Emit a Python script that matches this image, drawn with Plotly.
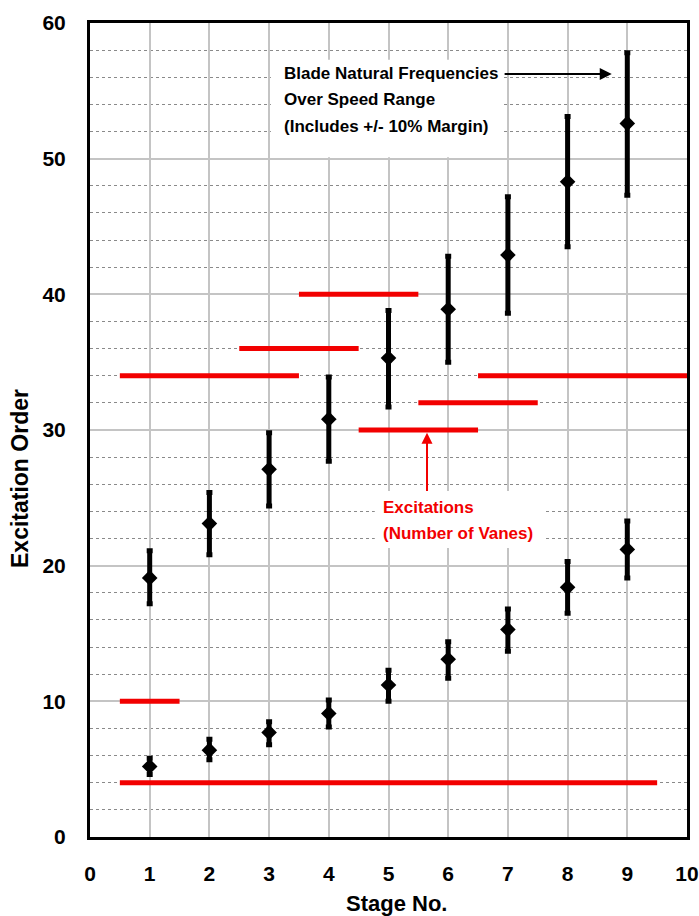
import plotly.graph_objects as go

# ---- data ----
stages = [1, 2, 3, 4, 5, 6, 7, 8, 9]
# upper blade natural-frequency band (centre, low, high)
upper_mid = [19.1, 23.1, 27.1, 30.8, 35.3, 38.9, 42.9, 48.3, 52.6]
upper_low = [17.2, 20.8, 24.4, 27.7, 31.7, 35.0, 38.6, 43.5, 47.3]
upper_high = [21.1, 25.4, 29.8, 33.9, 38.8, 42.8, 47.2, 53.1, 57.8]
# lower blade natural-frequency band (centre, low, high)
lower_mid = [5.2, 6.4, 7.7, 9.1, 11.2, 13.1, 15.3, 18.4, 21.2]
lower_low = [4.6, 5.7, 6.8, 8.1, 10.0, 11.7, 13.7, 16.5, 19.1]
lower_high = [5.8, 7.2, 8.5, 10.1, 12.3, 14.4, 16.8, 20.3, 23.3]
# excitations (number of vanes): level and stage span
exc_level = [4, 10, 34, 36, 40, 30, 32, 34]
exc_start = [0.5, 0.5, 0.5, 2.5, 3.5, 4.5, 5.5, 6.5]
exc_end = [9.5, 1.5, 3.5, 4.5, 5.5, 6.5, 7.5, 10.0]

x_ticks = list(range(0, 11))
y_ticks = list(range(0, 61, 10))

blade_lines = ["Blade Natural Frequencies", "Over Speed Range", "(Includes +/- 10% Margin)"]
exc_lines = ["Excitations", "(Number of Vanes)"]

FONT = "Liberation Sans, Arial, sans-serif"
RED = "#f20000"

fig = go.Figure()

# excitation lines
ex, ey = [], []
for lv, a, b in zip(exc_level, exc_start, exc_end):
    ex += [a, b, None]
    ey += [lv, lv, None]
fig.add_trace(go.Scatter(x=ex, y=ey, mode="lines",
                         line=dict(color=RED, width=5), hoverinfo="skip",
                         showlegend=False))

def band(mid, low, high):
    return go.Scatter(
        x=stages, y=mid, mode="markers",
        marker=dict(symbol="diamond", size=12, color="black"),
        error_y=dict(type="data", symmetric=False,
                     array=[h - m for h, m in zip(high, mid)],
                     arrayminus=[m - l for m, l in zip(mid, low)],
                     color="black", thickness=5, width=3),
        showlegend=False)

fig.add_trace(band(upper_mid, upper_low, upper_high))
fig.add_trace(band(lower_mid, lower_low, lower_high))

# white label boxes (above gridlines, below traces)
fig.add_shape(type="rect", xref="x", yref="y", x0=3.03, x1=6.90, y0=50.1, y1=57.3,
              fillcolor="white", line=dict(width=0), layer="between")
fig.add_shape(type="rect", xref="x", yref="y", x0=4.77, x1=7.62, y0=21.3, y1=25.5,
              fillcolor="white", line=dict(width=0), layer="between")

# label text, one annotation per line
for txt, yv in zip(blade_lines, [56.25, 54.33, 52.34]):
    fig.add_annotation(x=3.216, y=yv, xref="x", yref="y", xanchor="left", yanchor="middle",
                       text="<b>" + txt + "</b>", showarrow=False,
                       font=dict(family=FONT, size=17, color="black"))
for txt, yv in zip(exc_lines, [24.31, 22.39]):
    fig.add_annotation(x=4.874, y=yv, xref="x", yref="y", xanchor="left", yanchor="middle",
                       text="<b>" + txt + "</b>", showarrow=False,
                       font=dict(family=FONT, size=17, color=RED))

# arrows
fig.add_annotation(x=8.74, y=56.25, ax=6.92, ay=56.25, xref="x", yref="y",
                   axref="x", ayref="y", text="", showarrow=True,
                   arrowhead=2, arrowsize=1.2, arrowwidth=2, arrowcolor="black")
fig.add_annotation(x=5.645, y=29.8, ax=5.645, ay=25.4, xref="x", yref="y",
                   axref="x", ayref="y", text="", showarrow=True,
                   arrowhead=2, arrowsize=1.1, arrowwidth=2, arrowcolor=RED)

# axis titles as annotations (placed like the reference)
fig.add_annotation(x=-0.1173, y=0.441, xref="paper", yref="paper",
                   xanchor="center", yanchor="middle", textangle=-90,
                   text="<b>Excitation Order</b>", showarrow=False,
                   font=dict(family=FONT, size=23, color="black"))
fig.add_annotation(x=0.514, y=-0.0811, xref="paper", yref="paper",
                   xanchor="center", yanchor="middle",
                   text="<b>Stage No.</b>", showarrow=False,
                   font=dict(family=FONT, size=22, color="black"))

fig.update_layout(
    width=699, height=916,
    margin=dict(l=90, r=12, t=23, b=79),
    paper_bgcolor="white", plot_bgcolor="white",
    font=dict(family=FONT, color="black"),
)
fig.update_xaxes(
    range=[0, 10], tickvals=x_ticks, ticktext=[str(v) for v in x_ticks],
    showgrid=True, gridcolor="#c4c4c4", gridwidth=1.5,
    showline=True, linecolor="black", linewidth=3, mirror=True,
    ticks="", ticklabelstandoff=16, zeroline=False, automargin=False,
    tickfont=dict(family=FONT, size=21, color="black", weight="bold"),
)
fig.update_yaxes(
    range=[0, 60], tickvals=y_ticks, ticktext=[str(v) for v in y_ticks],
    showgrid=True, gridcolor="#c4c4c4", gridwidth=1.5,
    minor=dict(dtick=2, showgrid=True, gridcolor="#8a8a8a", griddash="dot", gridwidth=1),
    showline=True, linecolor="black", linewidth=3, mirror=True,
    ticks="", ticklabelstandoff=17, zeroline=False, automargin=False,
    tickfont=dict(family=FONT, size=21, color="black", weight="bold"),
)

fig.write_html("out.html",
               config={"displayModeBar": False},
               post_script="document.body.style.margin='0';document.body.style.overflow='hidden';")
